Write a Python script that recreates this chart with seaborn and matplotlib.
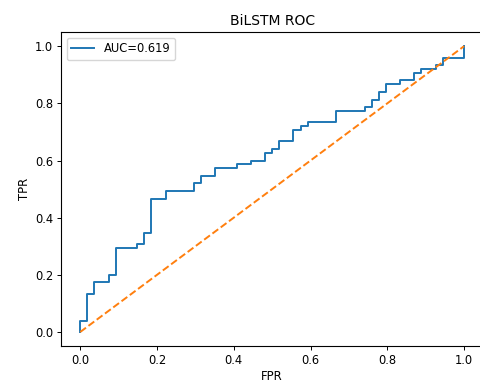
import numpy as np
import matplotlib
matplotlib.use("Agg")
import matplotlib.pyplot as plt
import seaborn as sns

# ROC curve vertices (false positive rate / true positive rate)
fpr = [0.0, 0.0, 1/54, 1/54, 2/54, 2/54, 4/54, 4/54, 5/54, 5/54, 8/54, 8/54,
       9/54, 9/54, 10/54, 10/54, 12/54, 12/54, 16/54, 16/54, 17/54, 17/54,
       19/54, 19/54, 22/54, 22/54, 24/54, 24/54, 26/54, 26/54, 27/54, 27/54,
       28/54, 28/54, 30/54, 30/54, 31/54, 31/54, 32/54, 32/54, 36/54, 36/54,
       40/54, 40/54, 41/54, 41/54, 42/54, 42/54, 43/54, 43/54, 45/54, 45/54,
       47/54, 47/54, 48/54, 48/54, 50/54, 50/54, 51/54, 51/54, 1.0, 1.0]
tpr = [0.0, 3/75, 3/75, 10/75, 10/75, 13/75, 13/75, 15/75, 15/75, 22/75,
       22/75, 23/75, 23/75, 26/75, 26/75, 35/75, 35/75, 37/75, 37/75, 39/75,
       39/75, 41/75, 41/75, 43/75, 43/75, 44/75, 44/75, 45/75, 45/75, 47/75,
       47/75, 48/75, 48/75, 50/75, 50/75, 53/75, 53/75, 54/75, 54/75, 55/75,
       55/75, 58/75, 58/75, 59/75, 59/75, 61/75, 61/75, 63/75, 63/75, 65/75,
       65/75, 66/75, 66/75, 68/75, 68/75, 69/75, 69/75, 70/75, 70/75, 72/75,
       72/75, 1.0]
auc_label = "AUC=0.619"
chance = [0.0, 1.0]

plt.rcParams.update({"font.size": 8.3})
fig = plt.figure(figsize=(4.81, 3.83), dpi=100)
ax = fig.add_axes([0.1268, 0.0958, 0.878, 0.821])

sns.lineplot(x=fpr, y=tpr, ax=ax, sort=False, estimator=None,
             color="#1f77b4", linewidth=1.4, label=auc_label)
ax.plot(chance, chance, linestyle="--", color="#ff7f0e", linewidth=1.4)

ax.set_xlim(-0.05, 1.05)
ax.set_ylim(-0.05, 1.05)
ax.set_xticks([0.0, 0.2, 0.4, 0.6, 0.8, 1.0])
ax.set_yticks([0.0, 0.2, 0.4, 0.6, 0.8, 1.0])
ax.set_xlabel("FPR", labelpad=2)
ax.set_ylabel("TPR", labelpad=3)
ax.set_title("BiLSTM ROC", fontsize=10, pad=5)
ax.tick_params(length=3, width=0.7, pad=2.5)
for s in ax.spines.values():
    s.set_linewidth(0.8)
ax.legend(loc="upper left", fontsize=8.3)

fig.savefig("out.png", dpi=100)
